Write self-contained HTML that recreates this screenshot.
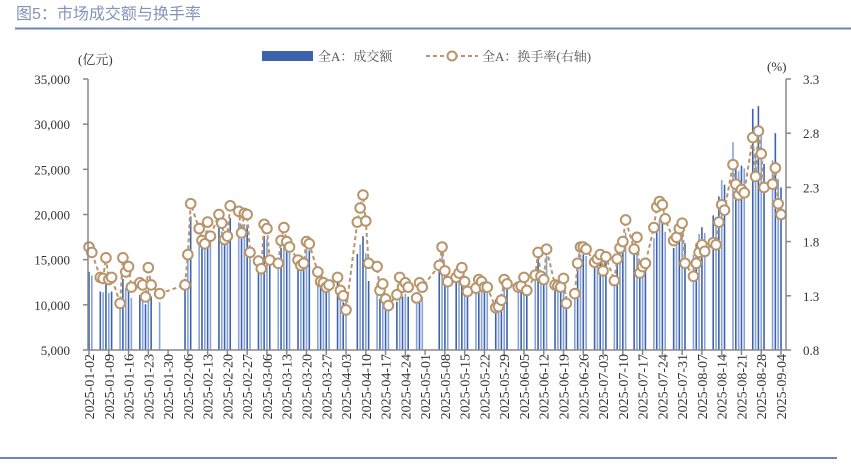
<!DOCTYPE html>
<html><head><meta charset="utf-8"><style>
body{margin:0;background:#fff;}
svg text{font-family:"Liberation Serif","Noto Serif CJK SC",serif;}
</style></head><body>
<svg id="chart" width="851" height="466" viewBox="0 0 851 466" xmlns="http://www.w3.org/2000/svg">
<text x="16" y="19" font-size="16" fill="#8593b8" style="font-family:'Liberation Sans','Noto Sans CJK SC',sans-serif">图5：市场成交额与换手率</text>
<line x1="15" y1="28.5" x2="851" y2="28.5" stroke="#6c86bb" stroke-width="2"/>
<line x1="0" y1="458" x2="837" y2="458" stroke="#6c86bb" stroke-width="2"/>
<g>
<rect x="262" y="51" width="51" height="10" fill="#3e63ae"/>
<text x="318" y="61" font-size="13" fill="#555">全A：成交额</text>
<line x1="426" y1="56" x2="478" y2="56" stroke="#b8956a" stroke-width="2" stroke-dasharray="4,3"/>
<circle cx="452" cy="56" r="4.5" fill="#fff" stroke="#b8956a" stroke-width="2"/>
<text x="482" y="61" font-size="13" fill="#555">全A：换手率(右轴)</text>
</g>
<text x="78" y="64" font-size="13" fill="#333">(亿元)</text>
<text x="767" y="71" font-size="13" fill="#333">(%)</text>
<g id="plot"></g>
</svg>
<script>
const leftTicks=[5000,10000,15000,20000,25000,30000,35000];
const rightTicks=[0.8,1.3,1.8,2.3,2.8,3.3];
const holidays=["2025-01-01","2025-01-28","2025-01-29","2025-01-30","2025-01-31","2025-02-03","2025-02-04","2025-04-04","2025-05-01","2025-05-02","2025-05-05","2025-06-02"];
const amount=[
13650,13260,11470,11390,12870,11310,11470,9590,12870,11860,12250,10760,11080,10920,10060,12170,10920,10300,
12880,15460,19780,17660,16650,16380,18220,17020,18860,18120,16740,17020,19600,19140,17300,18950,18860,15640,
14580,13950,17640,17280,14670,14400,16290,17370,16200,15750,14670,14220,14400,16200,16020,13680,12870,12780,12420,12600,13230,
10670,10270,10500,15640,16670,17600,15720,12640,12400,10670,11140,10030,9560,10350,11610,10900,11220,10900,10110,11220,10900,
14060,15580,13620,12730,13080,13440,13880,12730,11930,12190,12910,12730,12280,12280,10590,10680,11210,12910,12550,
12280,12370,13080,12020,13260,15130,13170,12910,15400,12460,12370,12280,12990,10950,11750,14240,15580,15580,15400,14330,
14760,15120,13770,14940,12960,14760,15660,16200,18000,15570,16560,13590,14130,14400,17370,19080,19530,19260,18090,16290,16560,17280,17730,
16800,15540,16800,17850,18590,17960,19900,19700,22000,23800,23300,28000,26000,24800,25400,25100,31700,26800,32000,29000,25600,
26000,29000,23900,23000];
const turnover=[
1.75,1.70,1.47,1.46,1.65,1.45,1.47,1.23,1.65,1.52,1.57,1.38,1.42,1.40,1.29,1.56,1.40,1.32,
1.40,1.68,2.15,1.92,1.81,1.78,1.98,1.85,2.05,1.97,1.82,1.85,2.13,2.08,1.88,2.06,2.05,1.70,
1.62,1.55,1.96,1.92,1.63,1.60,1.81,1.93,1.80,1.75,1.63,1.58,1.60,1.80,1.78,1.52,1.43,1.42,1.38,1.40,1.47,
1.35,1.30,1.17,1.98,2.11,2.23,1.99,1.60,1.57,1.35,1.41,1.27,1.21,1.31,1.47,1.38,1.42,1.38,1.28,1.42,1.38,
1.58,1.75,1.53,1.43,1.47,1.51,1.56,1.43,1.34,1.37,1.45,1.43,1.38,1.38,1.19,1.20,1.26,1.45,1.41,
1.38,1.39,1.47,1.35,1.49,1.70,1.48,1.45,1.73,1.40,1.39,1.38,1.46,1.23,1.32,1.60,1.75,1.75,1.73,1.61,
1.64,1.68,1.53,1.66,1.44,1.64,1.74,1.80,2.00,1.73,1.84,1.51,1.57,1.60,1.93,2.12,2.17,2.14,2.01,1.81,1.84,1.92,1.97,
1.60,1.48,1.60,1.70,1.77,1.71,1.79,1.77,1.98,2.14,2.09,2.51,2.33,2.23,2.28,2.25,2.76,2.40,2.82,2.61,2.30,
2.33,2.48,2.15,2.05];

const NS="http://www.w3.org/2000/svg";
const X0=89,X1=781,Y0=350,Y1=79,LEFT=88,RIGHT=786;
const start=Date.UTC(2025,0,2),end=Date.UTC(2025,8,4),DAY=86400000;
const span=(end-start)/DAY;
function xDay(d){return X0+(d/span)*(X1-X0);}
function yL(v){return Y0-(v-5000)/30000*(Y0-Y1);}
function yR(v){return Y0-(v-0.8)/2.5*(Y0-Y1);}
function fmt(ms){return new Date(ms).toISOString().slice(0,10);}
const days=[];
for(let t=start;t<=end;t+=DAY){const wd=new Date(t).getUTCDay();if(wd===0||wd===6)continue;if(holidays.includes(fmt(t)))continue;days.push((t-start)/DAY);}
const plot=document.getElementById('plot');
function mk(tag,attrs){const e=document.createElementNS(NS,tag);for(const k in attrs)e.setAttribute(k,attrs[k]);plot.appendChild(e);return e;}
const n=Math.min(days.length,amount.length,turnover.length);
for(let i=0;i<n;i++){
  const x=xDay(days[i]),y=yL(amount[i]);
  const b=mk('rect',{x:(x-0.8).toFixed(2),y:y.toFixed(2),width:1.6,height:(Y0-y).toFixed(2),fill:(i%2?'#86a2d8':'#3e63ae')});
  
  
}
let pts=[];
for(let i=0;i<n;i++)pts.push(xDay(days[i]).toFixed(2)+','+yR(turnover[i]).toFixed(2));
const pl=mk('polyline',{points:pts.join(' '),fill:'none',stroke:'#b8956a','stroke-width':2,'stroke-dasharray':'4,3'});


for(let i=0;i<n;i++){
  const c=mk('circle',{cx:xDay(days[i]).toFixed(2),cy:yR(turnover[i]).toFixed(2),r:4.8,fill:'#fff',stroke:'#b8956a','stroke-width':2});
  
  
}
const la=mk('line',{x1:LEFT,y1:Y1,x2:LEFT,y2:Y0,stroke:'#888','stroke-width':1.5});


const ra=mk('line',{x1:RIGHT,y1:Y1,x2:RIGHT,y2:Y0,stroke:'#888','stroke-width':1.5});


const xa=mk('line',{x1:LEFT,y1:Y0,x2:RIGHT,y2:Y0,stroke:'#888','stroke-width':1.5});


leftTicks.forEach(v=>{
  const y=yL(v);
  mk('line',{x1:LEFT-5,y1:y,x2:LEFT,y2:y,stroke:'#888','stroke-width':1.5});
  const t=mk('text',{x:70,y:y+5,'font-size':13,'text-anchor':'end',fill:'#333'});
  t.textContent=v.toLocaleString('en-US');
  
  
});
rightTicks.forEach(v=>{
  const y=yR(v);
  mk('line',{x1:RIGHT,y1:y,x2:RIGHT+5,y2:y,stroke:'#888','stroke-width':1.5});
  const t=mk('text',{x:803,y:y+5,'font-size':13,fill:'#333'});
  t.textContent=v.toFixed(1);
  
  
});
for(let d=0;d<=span;d+=7){
  const x=xDay(d);
  mk('line',{x1:x,y1:Y0,x2:x,y2:Y0+5,stroke:'#888','stroke-width':1.5});
  const t=mk('text',{x:0,y:0,'font-size':14,'text-anchor':'end',fill:'#333',transform:`translate(${(x+5).toFixed(2)},${Y0+4}) rotate(-90)`});
  t.textContent=fmt(start+d*DAY);
  
  
}
</script>
</body></html>
